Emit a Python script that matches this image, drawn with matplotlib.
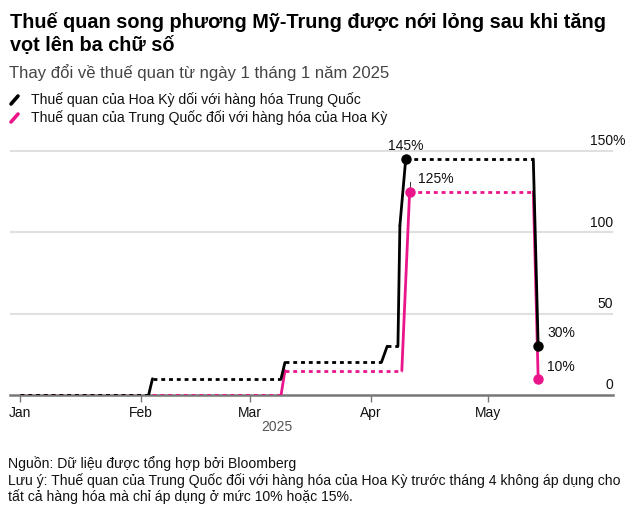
import pandas as pd
import matplotlib
matplotlib.use('Agg')
import matplotlib.pyplot as plt
import matplotlib.dates as mdates
from matplotlib.lines import Line2D

plt.rcParams['font.family'] = ['Liberation Sans', 'DejaVu Sans']

# US tariffs on Chinese goods (breakpoints)
us_dates = ['2025-01-01', '2025-02-03', '2025-02-04', '2025-03-09', '2025-03-10',
            '2025-04-03 18:00', '2025-04-05 06:00', '2025-04-08', '2025-04-08 12:00',
            '2025-04-10', '2025-05-12 18:00', '2025-05-14']
us_vals = [0, 0, 10, 10, 20, 20, 30, 30, 104, 145, 145, 30]

# China tariffs on US goods
cn_dates = ['2025-01-01', '2025-03-09', '2025-03-10', '2025-04-09', '2025-04-11',
            '2025-05-12 18:00', '2025-05-14']
cn_vals = [0, 0, 15, 15, 125, 125, 10]

us_dots = [('2025-04-10', 145), ('2025-05-14', 30)]
cn_dots = [('2025-04-11', 125), ('2025-05-14', 10)]

month_ticks = ['2025-01-01', '2025-02-01', '2025-03-01', '2025-04-01', '2025-05-01']

BLACK = '#000000'
PINK = '#ea158a'

W, H = 639, 513
fig = plt.figure(figsize=(W / 100, H / 100), dpi=100)

def fx(px):
    return px / W

def fy(py):
    return 1 - py / H

ax = fig.add_axes([fx(10), fy(395), fx(613) - fx(10), fy(146) - fy(395)])
ax.set_ylim(0, 153)
ax.set_xlim(pd.Timestamp('2024-12-29 10:00'), pd.Timestamp('2025-06-02 05:00'))

for v in [50, 100, 150]:
    ax.axhline(v, color='#e0e0e0', lw=1.5, zorder=0)


def draw_series(dates, vals, color, z):
    d = pd.to_datetime(dates, format='mixed')
    for i in range(len(d) - 1):
        if vals[i] == vals[i + 1]:
            ax.plot(d[i:i + 2], vals[i:i + 2], color=color, lw=2.0,
                    linestyle=(0, (1.4, 1.4)), zorder=z, solid_capstyle='butt',
                    dash_capstyle='butt')
        else:
            ax.plot(d[i:i + 2], vals[i:i + 2], color=color, lw=2.0, zorder=z,
                    solid_capstyle='round')


draw_series(cn_dates, cn_vals, PINK, 3)
draw_series(us_dates, us_vals, BLACK, 4)

for d, v in cn_dots:
    ax.plot(pd.Timestamp(d), v, 'o', color=PINK, ms=6.5, zorder=5)
for d, v in us_dots:
    ax.plot(pd.Timestamp(d), v, 'o', color=BLACK, ms=6.5, zorder=6)

# small leader above pink peak
ax.plot([pd.Timestamp(cn_dots[0][0])] * 2, [125, 131], color='#333333', lw=0.7, zorder=4)

lbl = dict(fontsize=10, color='#111111')
ax.annotate('145%', (pd.Timestamp(us_dots[0][0]), us_dots[0][1]), xytext=(0, 4),
            textcoords='offset points', ha='center', va='bottom', **lbl)
ax.annotate('125%', (pd.Timestamp(cn_dots[0][0]), cn_dots[0][1]), xytext=(6, 9),
            textcoords='offset points', ha='left', va='center', **lbl)
ax.annotate('30%', (pd.Timestamp(us_dots[1][0]), us_dots[1][1]), xytext=(6.5, 9.5),
            textcoords='offset points', ha='left', va='center', **lbl)
ax.annotate('10%', (pd.Timestamp(cn_dots[1][0]), cn_dots[1][1]), xytext=(6.5, 8.5),
            textcoords='offset points', ha='left', va='center', **lbl)

# y labels on the right, above gridlines
ylabels = [(150, '150%', 9), (100, '100', 0), (50, '50', 0), (0, '0', 0)]
for v, t, dx in ylabels:
    ax.annotate(t, (1, v), xycoords=('axes fraction', 'data'), xytext=(dx, 7),
                textcoords='offset points', ha='right', va='center', **lbl)

for s in ['top', 'right', 'left']:
    ax.spines[s].set_visible(False)
ax.spines['bottom'].set_color('#777777')
ax.spines['bottom'].set_linewidth(1.8)
ax.set_yticks([])
ax.set_xticks(pd.to_datetime(month_ticks))
ax.xaxis.set_major_formatter(mdates.DateFormatter('%b'))
ax.tick_params(axis='x', length=5, width=1, color='#777777', labelsize=10,
               labelcolor='#111111', pad=3)
ax.text(pd.Timestamp('2025-03-08'), -0.13, '2025', transform=ax.get_xaxis_transform(),
        ha='center', va='center', fontsize=10, color='#555555')

# header
fig.text(fx(10), fy(22), 'Thuế quan song phương Mỹ-Trung được nới lỏng sau khi tăng',
         fontsize=14.3, fontweight='bold', va='center', ha='left', color='#000000')
fig.text(fx(10), fy(46), 'vọt lên ba chữ số',
         fontsize=14.3, fontweight='bold', va='center', ha='left', color='#000000')
fig.text(fx(9), fy(73), 'Thay đổi về thuế quan từ ngày 1 tháng 1 năm 2025',
         fontsize=12, va='center', ha='left', color='#444444')

# legend
leg = [('Thuế quan của Hoa Kỳ dối với hàng hóa Trung Quốc', BLACK, 100),
       ('Thuế quan của Trung Quốc đối với hàng hóa của Hoa Kỳ', PINK, 118)]
for text, c, y in leg:
    fig.add_artist(Line2D([fx(11), fx(18)], [fy(y + 4), fy(y - 4)], color=c, lw=2.6,
                          solid_capstyle='round'))
    fig.text(fx(31), fy(y), text, fontsize=10.1, va='center', ha='left', color='#111111')

# footer
foot = ['Nguồn: Dữ liệu được tổng hợp bởi Bloomberg',
        'Lưu ý: Thuế quan của Trung Quốc đối với hàng hóa của Hoa Kỳ trước tháng 4 không áp dụng cho',
        'tất cả hàng hóa mà chỉ áp dụng ở mức 10% hoặc 15%.']
for i, t in enumerate(foot):
    fig.text(fx(8), fy(464 + 16.5 * i), t, fontsize=10.1, va='center', ha='left',
             color='#111111')

fig.savefig('out.png', dpi=100)
